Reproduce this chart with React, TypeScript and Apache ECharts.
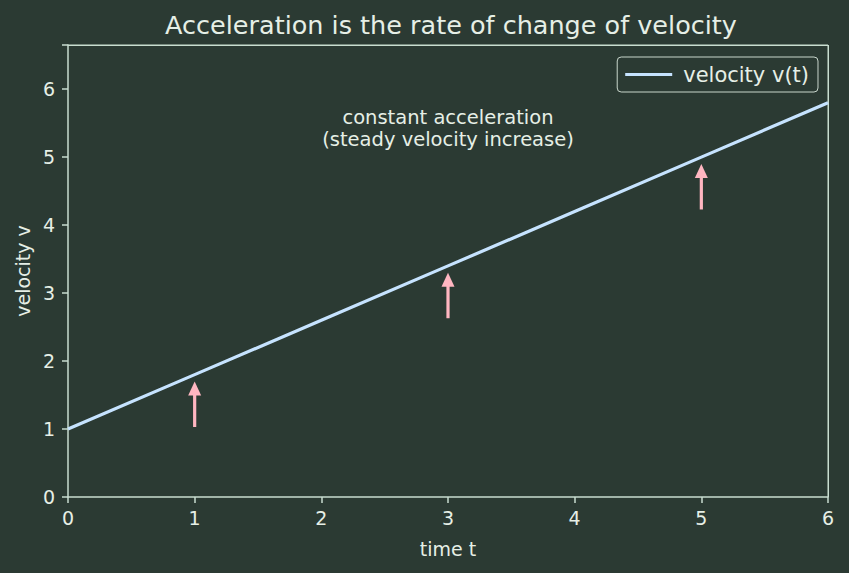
import React, { useEffect, useRef } from "react";
import * as echarts from "echarts";

const times = [0, 1, 2, 3, 4, 5, 6];
const velocity = [1.0, 1.8, 2.6, 3.4, 4.2, 5.0, 5.8];
const arrowTimes = [1, 3, 5];
const arrowBase = [1.03, 2.63, 4.23];
const arrowTip = [1.7, 3.3, 4.9];

const BG = "#2b3a33";
const FG = "#e6efe6";
const AXIS = "#c9ddd0";
const LINE = "#c6e3ff";
const PINK = "#ffb6c1";
const FONT = "DejaVu Sans";

export default function App() {
  const ref = useRef<HTMLDivElement>(null);
  useEffect(() => {
    document.body.style.margin = "0";
    if (!ref.current) return;
    const chart = echarts.init(ref.current, undefined, { renderer: "svg" });
    const arrowData = arrowTimes.map((t, i) => [t, arrowBase[i], arrowTip[i]]);
    chart.setOption({
      animation: false,
      backgroundColor: BG,
      textStyle: { fontFamily: FONT },
      title: {
        text: "Acceleration is the rate of change of velocity",
        left: 446,
        textAlign: "center",
        top: 7,
        textStyle: { color: FG, fontSize: 25.5, fontWeight: "normal", fontFamily: FONT },
      },
      grid: { left: 68, right: 21, top: 45, bottom: 76, containLabel: false },
      legend: {
        right: 31,
        top: 57,
        data: ["velocity v(t)"],
        icon: "rect",
        itemWidth: 47,
        itemHeight: 3,
        itemGap: 10,
        padding: [7, 9, 7, 8],
        borderColor: "#c9d6cc",
        borderWidth: 1,
        borderRadius: 4,
        backgroundColor: BG,
        textStyle: { color: FG, fontSize: 21, fontFamily: FONT, padding: [0, 0, 0, 6] },
      },
      xAxis: {
        type: "value",
        min: 0,
        max: 6,
        interval: 1,
        name: "time t",
        nameLocation: "middle",
        nameGap: 42,
        nameTextStyle: { color: FG, fontSize: 19, fontFamily: FONT },
        axisLine: { show: true, onZero: false, lineStyle: { color: AXIS, width: 1.5 } },
        axisTick: { show: true, length: 6, lineStyle: { color: AXIS, width: 1.5 } },
        axisLabel: { color: FG, fontSize: 19, margin: 11, fontFamily: FONT },
        splitLine: { show: false },
      },
      yAxis: {
        type: "value",
        min: 0,
        max: 6.65,
        interval: 1,
        name: "velocity v",
        nameLocation: "middle",
        nameGap: 36,
        nameTextStyle: { color: FG, fontSize: 19, fontFamily: FONT },
        axisLine: { show: true, onZero: false, lineStyle: { color: AXIS, width: 1.5 } },
        axisTick: { show: true, length: 6, lineStyle: { color: AXIS, width: 1.5 } },
        axisLabel: {
          color: FG,
          fontSize: 19,
          margin: 13,
          fontFamily: FONT,
          formatter: (v: number) => (Number.isInteger(v) ? String(v) : ""),
        },
        splitLine: { show: false },
      },
      graphic: [
        {
          type: "rect",
          x: 827.5,
          y: 45,
          shape: { width: 1.5, height: 452 },
          style: { fill: AXIS },
          silent: true,
        },
        {
          type: "rect",
          x: 68,
          y: 44.5,
          shape: { width: 760, height: 1.5 },
          style: { fill: AXIS },
          silent: true,
        },
        {
          type: "text",
          x: 448,
          y: 128,
          style: {
            text: "constant acceleration\n(steady velocity increase)",
            fill: FG,
            fontSize: 19.5,
            fontFamily: FONT,
            align: "center",
            verticalAlign: "middle",
            lineHeight: 22,
          },
        },
      ],
      series: [
        {
          name: "velocity v(t)",
          type: "line",
          data: times.map((t, i) => [t, velocity[i]]),
          showSymbol: false,
          symbol: "none",
          lineStyle: { color: LINE, width: 3.2 },
          itemStyle: { color: LINE },
          z: 3,
        },
        {
          name: "arrows",
          type: "custom",
          data: arrowData,
          encode: { x: 0, y: [1, 2] },
          renderItem: (params: any, api: any) => {
            const t = api.value(0);
            const p0 = api.coord([t, api.value(1)]);
            const p1 = api.coord([t, api.value(2)]);
            const headLen = 14;
            const headHalf = 6.5;
            return {
              type: "group",
              children: [
                {
                  type: "line",
                  shape: { x1: p0[0], y1: p0[1], x2: p1[0], y2: p1[1] + headLen - 2 },
                  style: { stroke: PINK, lineWidth: 3.2 },
                },
                {
                  type: "polygon",
                  shape: {
                    points: [
                      [p1[0], p1[1]],
                      [p1[0] - headHalf, p1[1] + headLen],
                      [p1[0] + headHalf, p1[1] + headLen],
                    ],
                  },
                  style: { fill: PINK },
                },
              ],
            };
          },
          z: 4,
        },
      ],
    });
    return () => chart.dispose();
  }, []);
  return <div ref={ref} style={{ width: 849, height: 573 }} />;
}
